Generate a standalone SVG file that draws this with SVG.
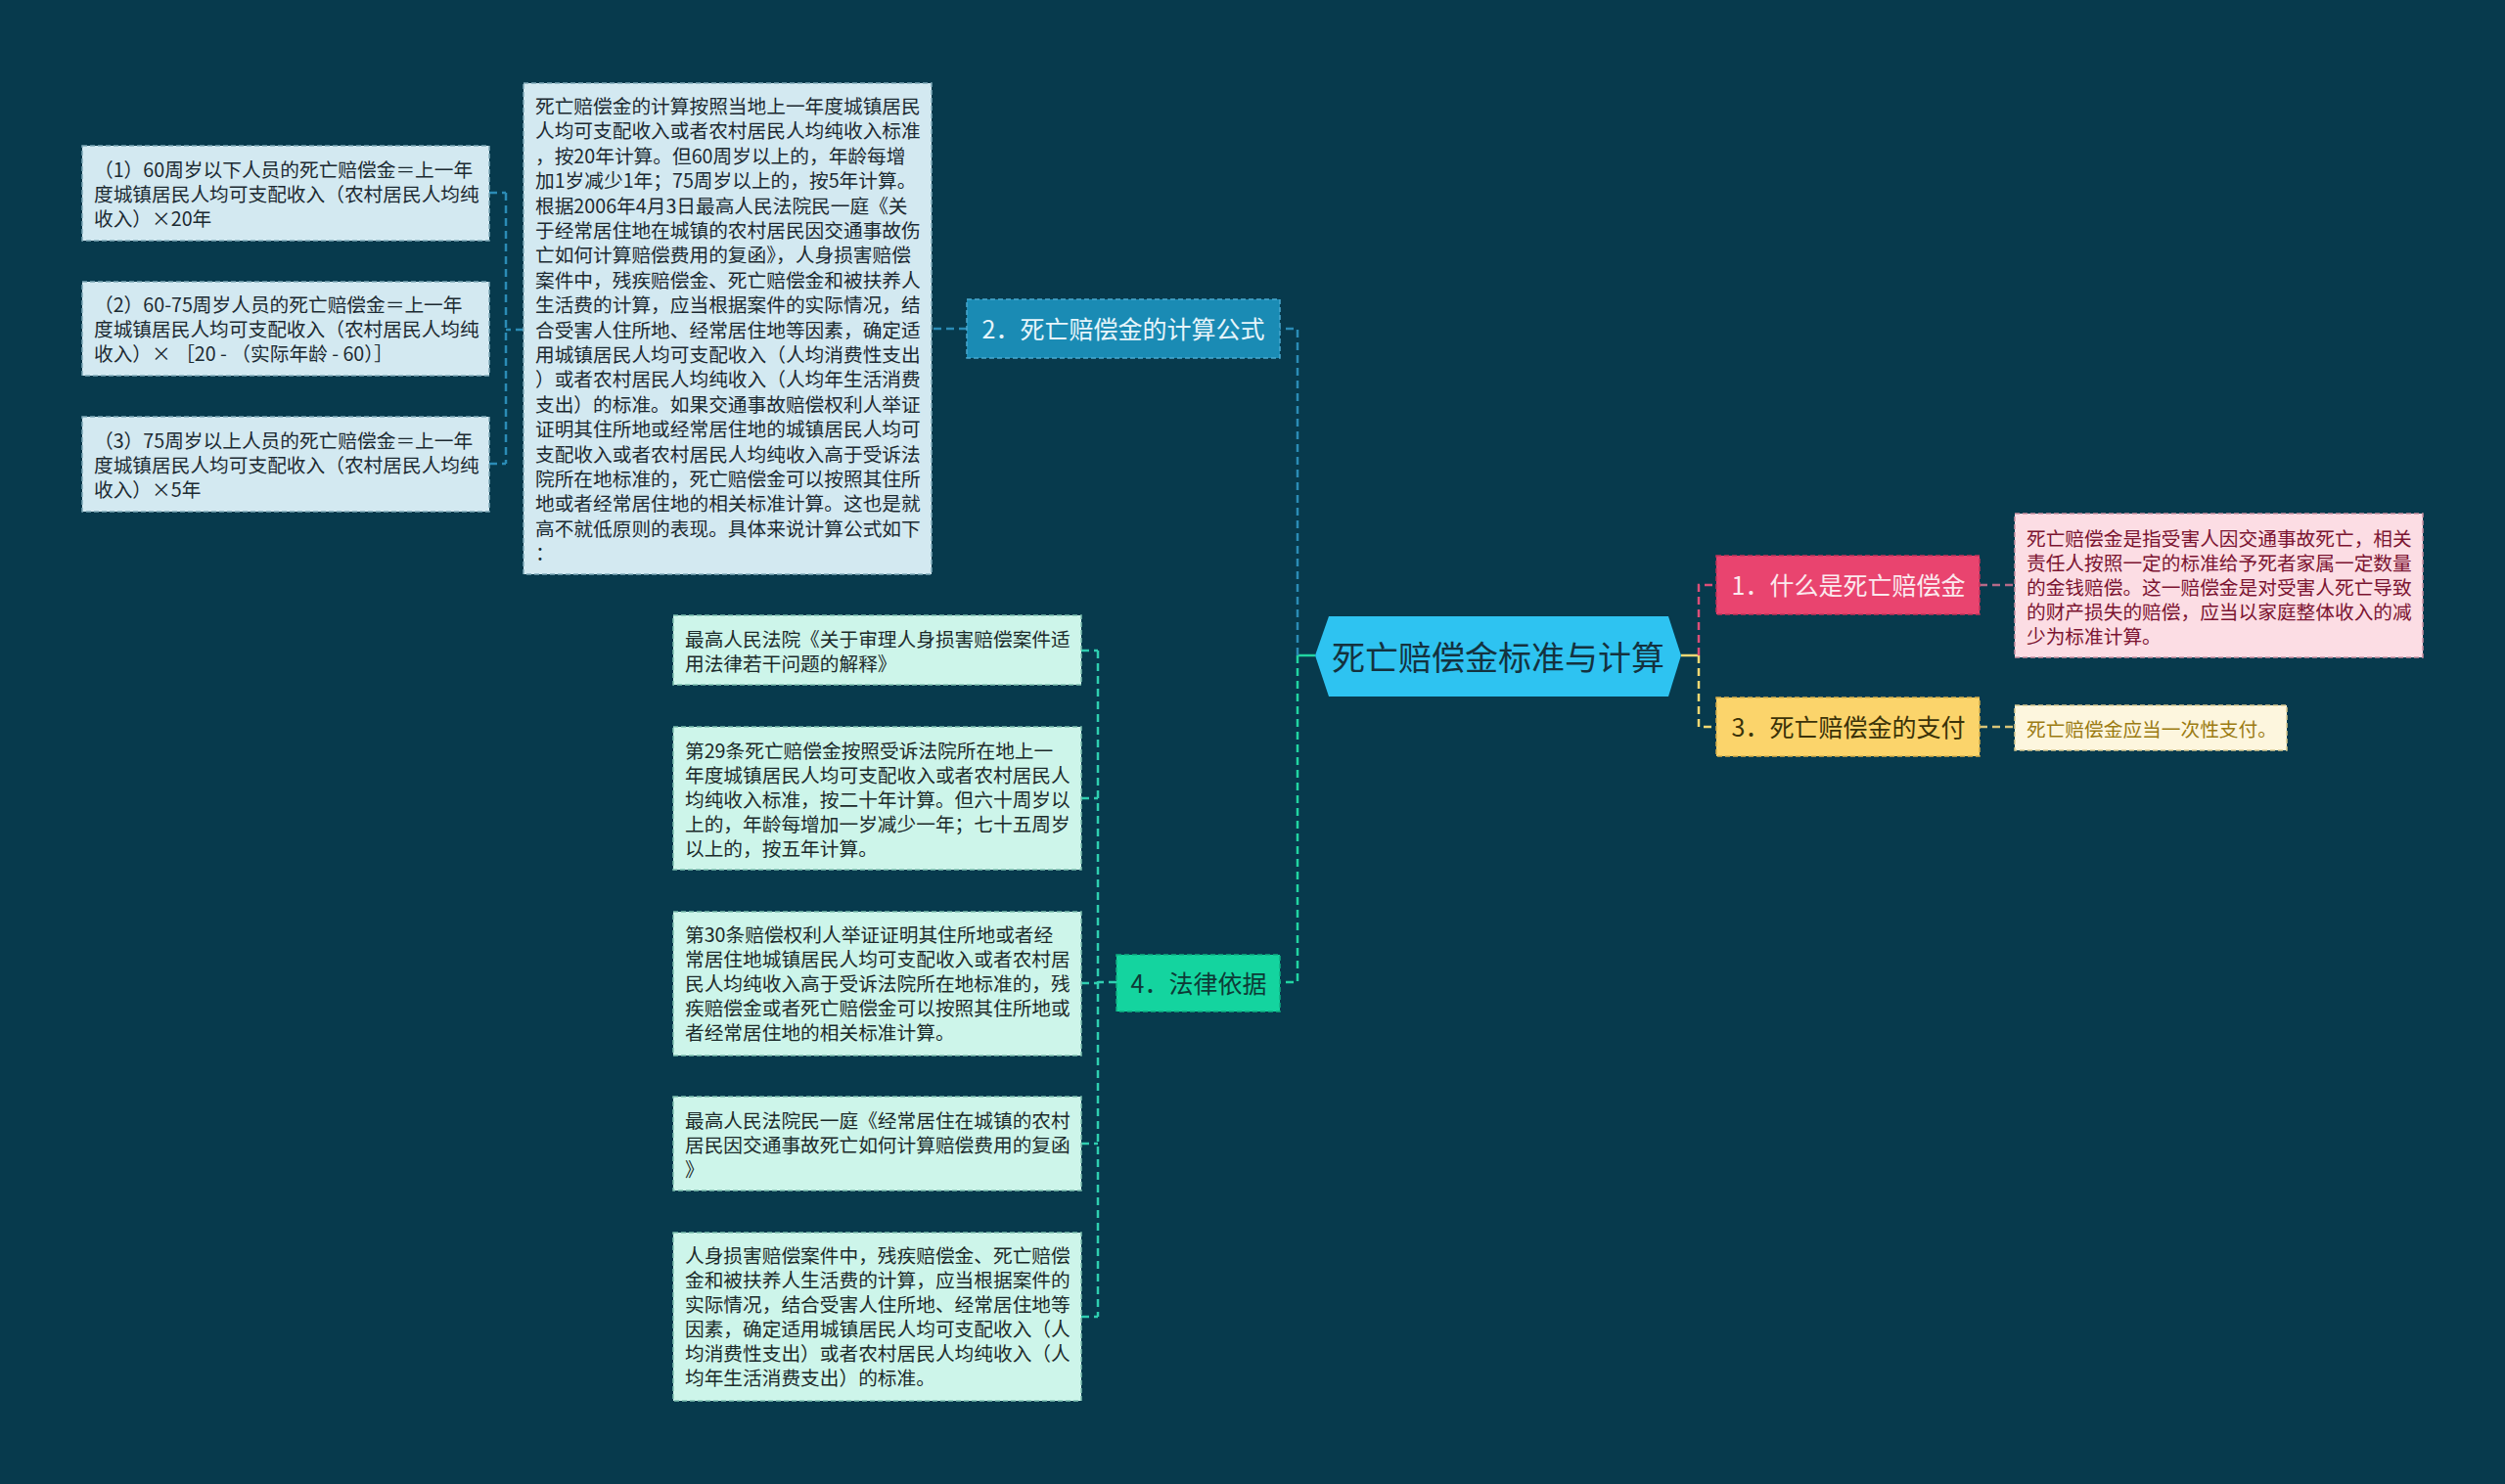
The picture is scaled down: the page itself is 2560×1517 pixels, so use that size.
<svg xmlns="http://www.w3.org/2000/svg" width="2560" height="1517" viewBox="0 0 2560 1517">
<style>
text{font-family:"Noto Sans CJK SC","Noto Sans",sans-serif;dominant-baseline:central}
.desc{font-size:19.7px}
.bl rect{fill:#d3e9f1;stroke:#7fa9b8;stroke-width:1.5;stroke-dasharray:5 3}
.bl text{fill:#1c2a31}
.mt rect{fill:#cdf5ea;stroke:#7cbfae;stroke-width:1.5;stroke-dasharray:5 3}
.mt text{fill:#1c2b2a}
.lbl{font-size:25px;text-anchor:middle}
.c{fill:none;stroke-width:2.5;stroke-dasharray:8 5}
</style>
<rect width="2560" height="1517" fill="#073a4d"/>

<g id="connectors">
  <path d="M1344 670 H1326" stroke="#21d5a2" stroke-width="2.5" fill="none"/>
  <path d="M1718 670 H1736" stroke="#f3d873" stroke-width="2.5" fill="none"/>
  <path class="c" stroke="#2b8cb6" d="M1326 670 V336 H1308"/>
  <path class="c" stroke="#21d5a2" d="M1326 670 V1004 H1308"/>
  <path class="c" stroke="#dc4e78" d="M1736 670 V598 H1754"/>
  <path class="c" stroke="#f3d873" d="M1736 670 V743 H1754"/>
  <path class="c" stroke="#2b8cb6" d="M988 336 H952"/>
  <path class="c" stroke="#2b8cb6" d="M535 337 H517 M517 197 V474 M500 197 H517 M500 474 H517"/>
  <path class="c" stroke="#2fcfb0" d="M1141 1004 H1122 M1122 665 V1346 M1105 665 H1122 M1105 816 H1122 M1105 1005 H1122 M1105 1169 H1122 M1105 1346 H1122"/>
  <path class="c" stroke="#b56a88" d="M2023 598 H2059"/>
  <path class="c" stroke="#d8c478" d="M2023 743 H2059"/>
</g>

<g id="root">
  <polygon points="1344,670 1358,630 1705,630 1718,670 1705,712 1358,712" fill="#2ec3f1"/>
  <text x="1531" y="670" font-size="34" text-anchor="middle" fill="#14323f">死亡赔偿金标准与计算</text>
</g>

<g id="node1">
  <rect x="1754" y="568" width="269" height="60" fill="#e9446f" stroke="#c23259" stroke-width="1.5" stroke-dasharray="5 3"/>
  <text class="lbl" x="1889" y="597" fill="#fbe9ee">1．什么是死亡赔偿金</text>
</g>
<g id="node2">
  <rect x="988" y="306" width="320" height="60" fill="#1a8bb4" stroke="#4aa9d0" stroke-width="1.5" stroke-dasharray="5 3"/>
  <text class="lbl" x="1148" y="335" fill="#e6f5fb">2．死亡赔偿金的计算公式</text>
</g>
<g id="node3">
  <rect x="1754" y="713" width="269" height="60" fill="#fbd46b" stroke="#d8ae4a" stroke-width="1.5" stroke-dasharray="5 3"/>
  <text class="lbl" x="1889" y="742" fill="#3a3208">3．死亡赔偿金的支付</text>
</g>
<g id="node4">
  <rect x="1141" y="976" width="167" height="58" fill="#14d49f" stroke="#0fae82" stroke-width="1.5" stroke-dasharray="5 3"/>
  <text class="lbl" x="1225" y="1004" fill="#0d3a36">4．法律依据</text>
</g>

<g id="desc1">
  <rect x="2059" y="525" width="417" height="147" fill="#fcdde4" stroke="#c98ea0" stroke-width="1.5" stroke-dasharray="5 3"/>
  <text class="desc" fill="#7b1431">
    <tspan x="2071" y="549">死亡赔偿金是指受害人因交通事故死亡，相关</tspan>
    <tspan x="2071" y="574">责任人按照一定的标准给予死者家属一定数量</tspan>
    <tspan x="2071" y="599">的金钱赔偿。这一赔偿金是对受害人死亡导致</tspan>
    <tspan x="2071" y="624">的财产损失的赔偿，应当以家庭整体收入的减</tspan>
    <tspan x="2071" y="649">少为标准计算。</tspan>
  </text>
</g>
<g id="desc3">
  <rect x="2059" y="721" width="278" height="46" fill="#fdf6de" stroke="#d9c98e" stroke-width="1.5" stroke-dasharray="5 3"/>
  <text class="desc" fill="#9b7b12" x="2071" y="744">死亡赔偿金应当一次性支付。</text>
</g>

<g id="desc2" class="bl">
  <rect x="535" y="85" width="417" height="502"/>
  <text class="desc">
    <tspan x="547" y="107">死亡赔偿金的计算按照当地上一年度城镇居民</tspan>
    <tspan x="547" y="132.4">人均可支配收入或者农村居民人均纯收入标准</tspan>
    <tspan x="547" y="157.8">，按20年计算。但60周岁以上的，年龄每增</tspan>
    <tspan x="547" y="183.2">加1岁减少1年；75周岁以上的，按5年计算。</tspan>
    <tspan x="547" y="208.6">根据2006年4月3日最高人民法院民一庭《关</tspan>
    <tspan x="547" y="234">于经常居住地在城镇的农村居民因交通事故伤</tspan>
    <tspan x="547" y="259.4">亡如何计算赔偿费用的复函》，人身损害赔偿</tspan>
    <tspan x="547" y="284.8">案件中，残疾赔偿金、死亡赔偿金和被扶养人</tspan>
    <tspan x="547" y="310.2">生活费的计算，应当根据案件的实际情况，结</tspan>
    <tspan x="547" y="335.6">合受害人住所地、经常居住地等因素，确定适</tspan>
    <tspan x="547" y="361">用城镇居民人均可支配收入（人均消费性支出</tspan>
    <tspan x="547" y="386.4">）或者农村居民人均纯收入（人均年生活消费</tspan>
    <tspan x="547" y="411.8">支出）的标准。如果交通事故赔偿权利人举证</tspan>
    <tspan x="547" y="437.2">证明其住所地或经常居住地的城镇居民人均可</tspan>
    <tspan x="547" y="462.6">支配收入或者农村居民人均纯收入高于受诉法</tspan>
    <tspan x="547" y="488">院所在地标准的，死亡赔偿金可以按照其住所</tspan>
    <tspan x="547" y="513.4">地或者经常居住地的相关标准计算。这也是就</tspan>
    <tspan x="547" y="538.8">高不就低原则的表现。具体来说计算公式如下</tspan>
    <tspan x="547" y="564.2">：</tspan>
  </text>
</g>

<g id="formula1" class="bl">
  <rect x="84" y="149" width="416" height="97"/>
  <text class="desc">
    <tspan x="96" y="172">（1）60周岁以下人员的死亡赔偿金＝上一年</tspan>
    <tspan x="96" y="197">度城镇居民人均可支配收入（农村居民人均纯</tspan>
    <tspan x="96" y="222">收入）×20年</tspan>
  </text>
</g>
<g id="formula2" class="bl">
  <rect x="84" y="288" width="416" height="96"/>
  <text class="desc">
    <tspan x="96" y="310">（2）60-75周岁人员的死亡赔偿金＝上一年</tspan>
    <tspan x="96" y="335">度城镇居民人均可支配收入（农村居民人均纯</tspan>
    <tspan x="96" y="360">收入）× ［20 - （实际年龄 - 60）］</tspan>
  </text>
</g>
<g id="formula3" class="bl">
  <rect x="84" y="426" width="416" height="97"/>
  <text class="desc">
    <tspan x="96" y="449">（3）75周岁以上人员的死亡赔偿金＝上一年</tspan>
    <tspan x="96" y="474">度城镇居民人均可支配收入（农村居民人均纯</tspan>
    <tspan x="96" y="499">收入）×5年</tspan>
  </text>
</g>

<g id="law1" class="mt">
  <rect x="688" y="629" width="417" height="71"/>
  <text class="desc">
    <tspan x="700" y="652">最高人民法院《关于审理人身损害赔偿案件适</tspan>
    <tspan x="700" y="677">用法律若干问题的解释》</tspan>
  </text>
</g>
<g id="law2" class="mt">
  <rect x="688" y="743" width="417" height="146"/>
  <text class="desc">
    <tspan x="700" y="766">第29条死亡赔偿金按照受诉法院所在地上一</tspan>
    <tspan x="700" y="791">年度城镇居民人均可支配收入或者农村居民人</tspan>
    <tspan x="700" y="816">均纯收入标准，按二十年计算。但六十周岁以</tspan>
    <tspan x="700" y="841">上的，年龄每增加一岁减少一年；七十五周岁</tspan>
    <tspan x="700" y="866">以上的，按五年计算。</tspan>
  </text>
</g>
<g id="law3" class="mt">
  <rect x="688" y="932" width="417" height="147"/>
  <text class="desc">
    <tspan x="700" y="954">第30条赔偿权利人举证证明其住所地或者经</tspan>
    <tspan x="700" y="979">常居住地城镇居民人均可支配收入或者农村居</tspan>
    <tspan x="700" y="1004">民人均纯收入高于受诉法院所在地标准的，残</tspan>
    <tspan x="700" y="1029">疾赔偿金或者死亡赔偿金可以按照其住所地或</tspan>
    <tspan x="700" y="1054">者经常居住地的相关标准计算。</tspan>
  </text>
</g>
<g id="law4" class="mt">
  <rect x="688" y="1121" width="417" height="96"/>
  <text class="desc">
    <tspan x="700" y="1144">最高人民法院民一庭《经常居住在城镇的农村</tspan>
    <tspan x="700" y="1169">居民因交通事故死亡如何计算赔偿费用的复函</tspan>
    <tspan x="700" y="1194">》</tspan>
  </text>
</g>
<g id="law5" class="mt">
  <rect x="688" y="1260" width="417" height="172"/>
  <text class="desc">
    <tspan x="700" y="1282">人身损害赔偿案件中，残疾赔偿金、死亡赔偿</tspan>
    <tspan x="700" y="1307">金和被扶养人生活费的计算，应当根据案件的</tspan>
    <tspan x="700" y="1332">实际情况，结合受害人住所地、经常居住地等</tspan>
    <tspan x="700" y="1357">因素，确定适用城镇居民人均可支配收入（人</tspan>
    <tspan x="700" y="1382">均消费性支出）或者农村居民人均纯收入（人</tspan>
    <tspan x="700" y="1407">均年生活消费支出）的标准。</tspan>
  </text>
</g>
</svg>
